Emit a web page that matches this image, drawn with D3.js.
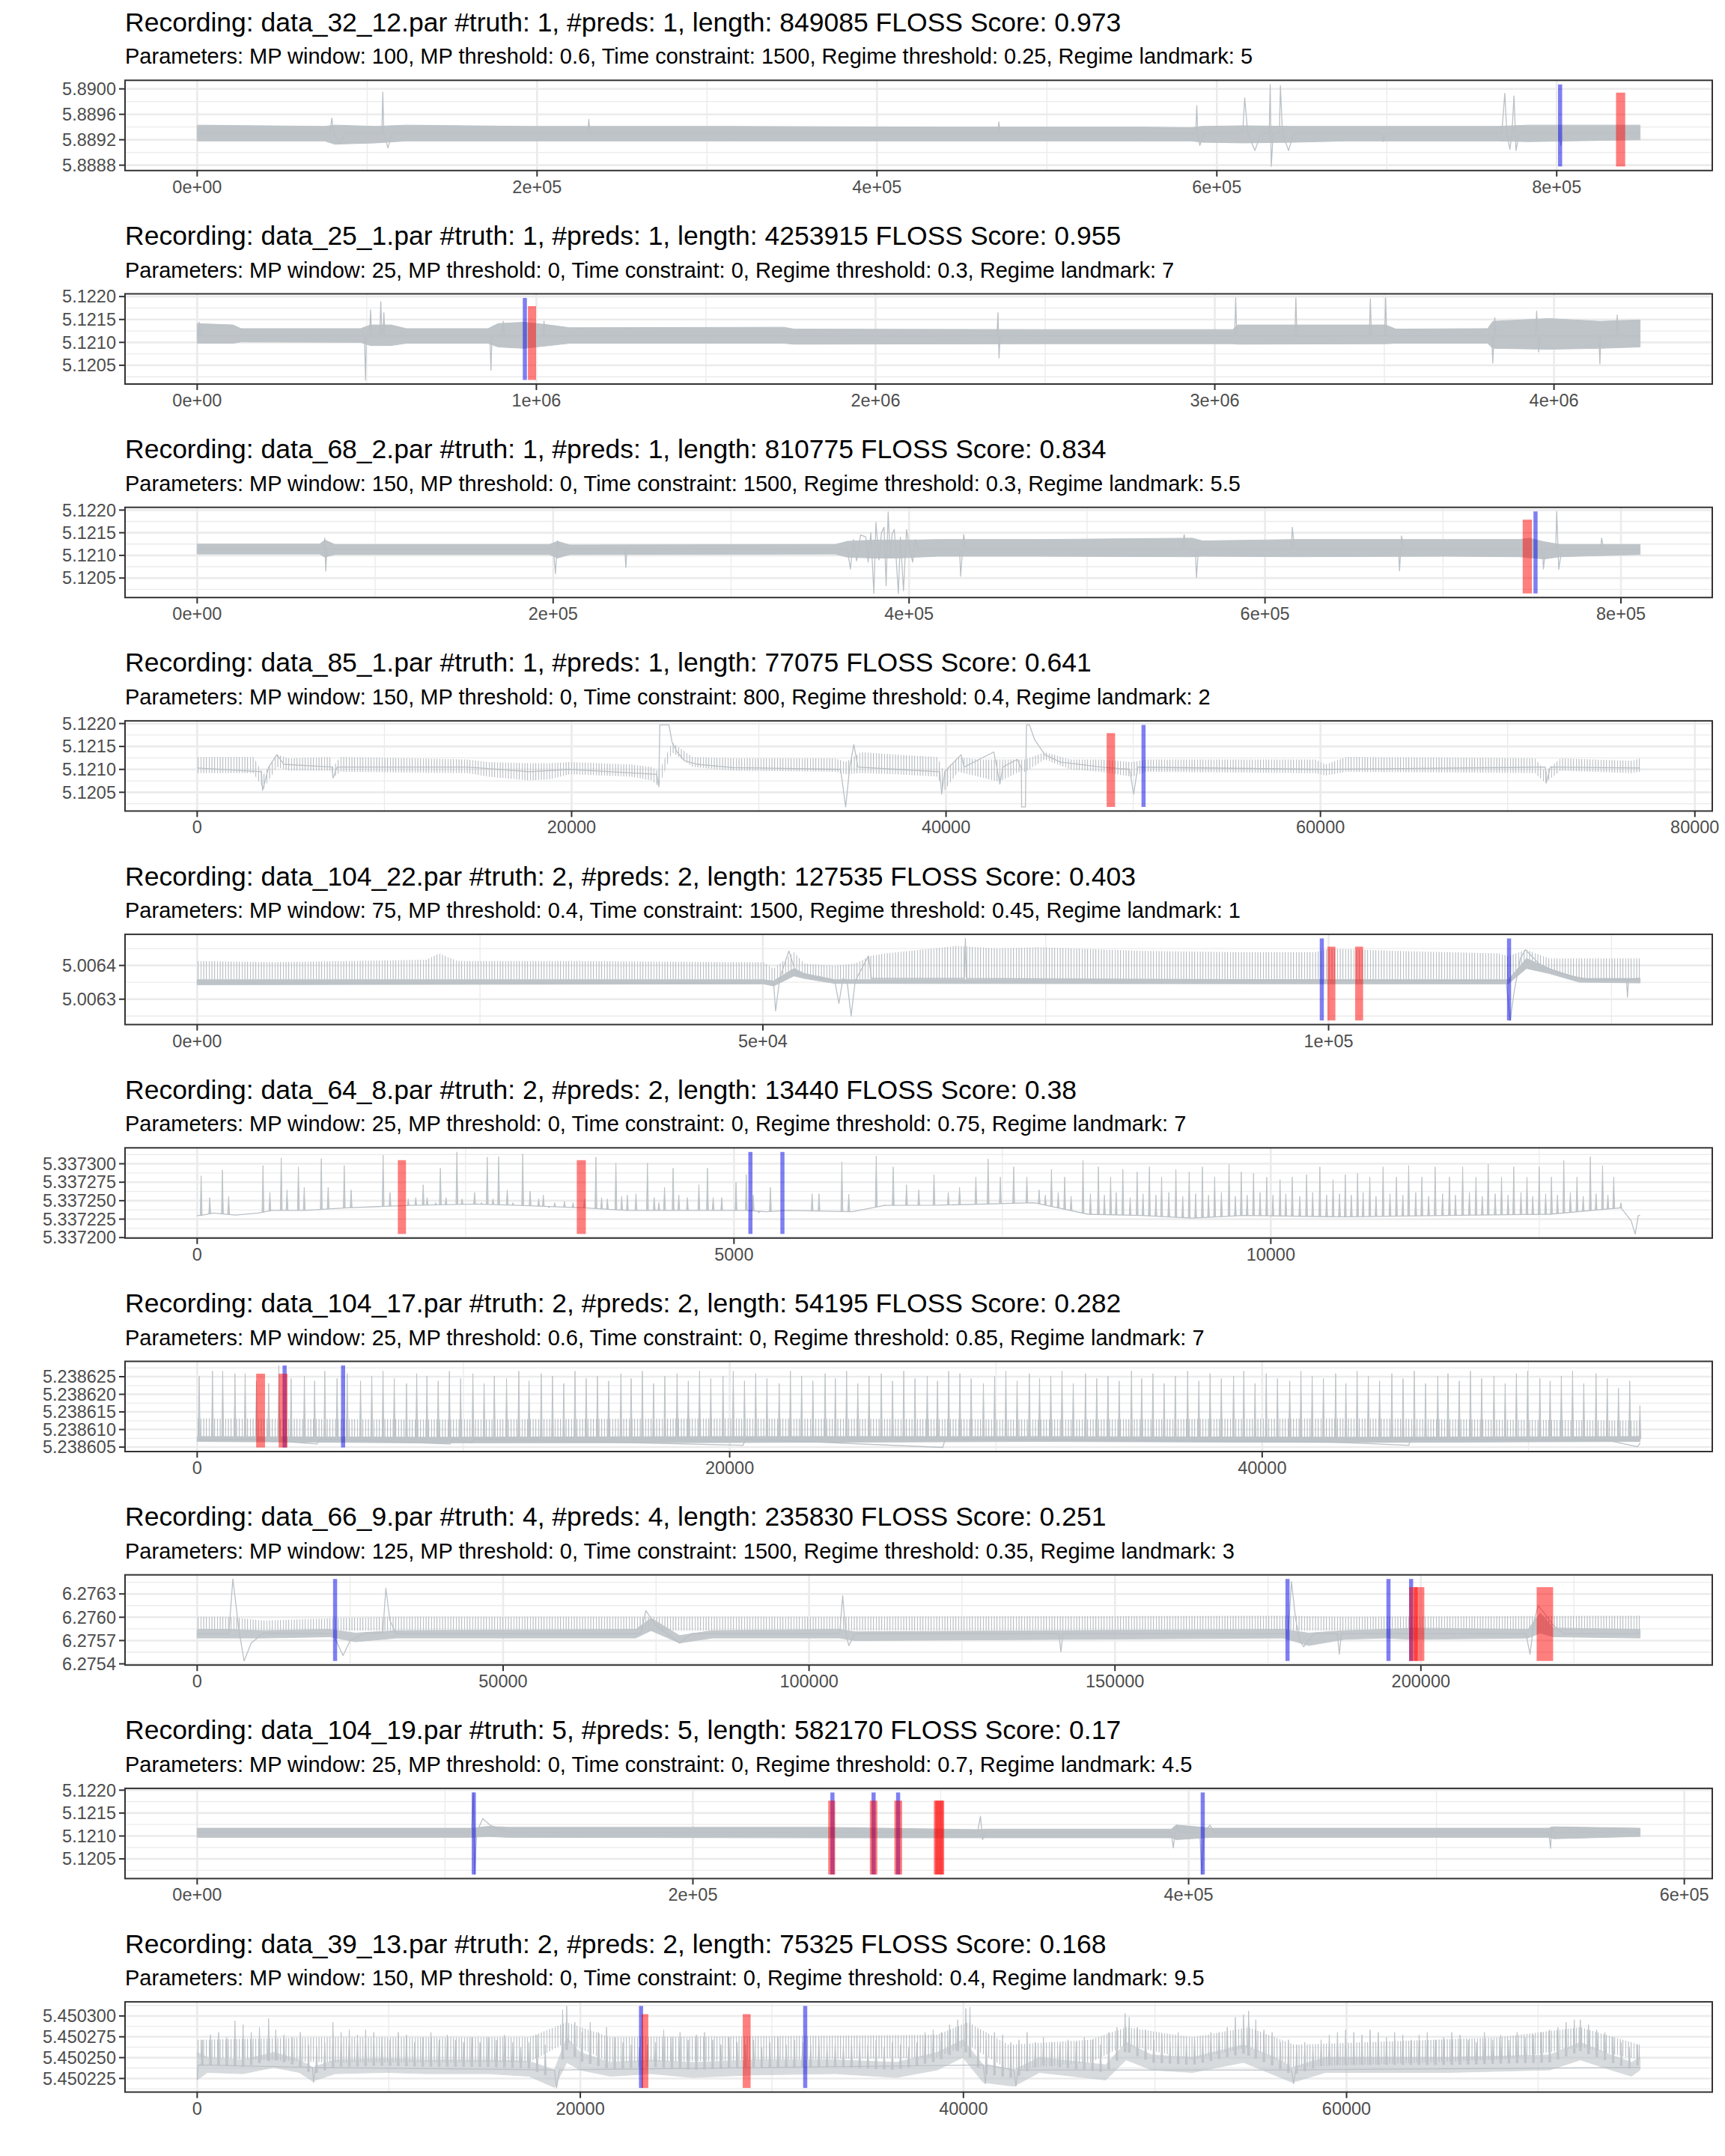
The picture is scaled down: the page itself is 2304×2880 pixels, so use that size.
<!DOCTYPE html>
<html><head><meta charset="utf-8">
<script src="https://cdn.jsdelivr.net/npm/d3@7"></script>
<style>body{margin:0;background:#fff;} text{font-family:"Liberation Sans",Arial,Helvetica,sans-serif;}</style>
</head><body><svg id="chart" width="2304" height="2880" xmlns="http://www.w3.org/2000/svg"></svg>
<script>
// ---------------- text ----------------
const titles = [
 "Recording: data_32_12.par #truth: 1, #preds: 1, length: 849085 FLOSS Score: 0.973",
 "Recording: data_25_1.par #truth: 1, #preds: 1, length: 4253915 FLOSS Score: 0.955",
 "Recording: data_68_2.par #truth: 1, #preds: 1, length: 810775 FLOSS Score: 0.834",
 "Recording: data_85_1.par #truth: 1, #preds: 1, length: 77075 FLOSS Score: 0.641",
 "Recording: data_104_22.par #truth: 2, #preds: 2, length: 127535 FLOSS Score: 0.403",
 "Recording: data_64_8.par #truth: 2, #preds: 2, length: 13440 FLOSS Score: 0.38",
 "Recording: data_104_17.par #truth: 2, #preds: 2, length: 54195 FLOSS Score: 0.282",
 "Recording: data_66_9.par #truth: 4, #preds: 4, length: 235830 FLOSS Score: 0.251",
 "Recording: data_104_19.par #truth: 5, #preds: 5, length: 582170 FLOSS Score: 0.17",
 "Recording: data_39_13.par #truth: 2, #preds: 2, length: 75325 FLOSS Score: 0.168"];
const subtitles = [
 "Parameters: MP window: 100, MP threshold: 0.6, Time constraint: 1500, Regime threshold: 0.25, Regime landmark: 5",
 "Parameters: MP window: 25, MP threshold: 0, Time constraint: 0, Regime threshold: 0.3, Regime landmark: 7",
 "Parameters: MP window: 150, MP threshold: 0, Time constraint: 1500, Regime threshold: 0.3, Regime landmark: 5.5",
 "Parameters: MP window: 150, MP threshold: 0, Time constraint: 800, Regime threshold: 0.4, Regime landmark: 2",
 "Parameters: MP window: 75, MP threshold: 0.4, Time constraint: 1500, Regime threshold: 0.45, Regime landmark: 1",
 "Parameters: MP window: 25, MP threshold: 0, Time constraint: 0, Regime threshold: 0.75, Regime landmark: 7",
 "Parameters: MP window: 25, MP threshold: 0.6, Time constraint: 0, Regime threshold: 0.85, Regime landmark: 7",
 "Parameters: MP window: 125, MP threshold: 0, Time constraint: 1500, Regime threshold: 0.35, Regime landmark: 3",
 "Parameters: MP window: 25, MP threshold: 0, Time constraint: 0, Regime threshold: 0.7, Regime landmark: 4.5",
 "Parameters: MP window: 150, MP threshold: 0, Time constraint: 0, Regime threshold: 0.4, Regime landmark: 9.5"];
const lengths = [849085, 4253915, 810775, 77075, 127535, 13440, 54195, 235830, 582170, 75325];

// ---------------- axis ticks ----------------
const xTicks = [
 [0,2e5,4e5,6e5,8e5],[0,1e6,2e6,3e6,4e6],[0,2e5,4e5,6e5,8e5],[0,20000,40000,60000,80000],
 [0,5e4,1e5],[0,5000,10000],[0,20000,40000],[0,50000,100000,150000,200000],[0,2e5,4e5,6e5],[0,20000,40000,60000]];
const xTickLabels = [
 ["0e+00","2e+05","4e+05","6e+05","8e+05"],["0e+00","1e+06","2e+06","3e+06","4e+06"],
 ["0e+00","2e+05","4e+05","6e+05","8e+05"],["0","20000","40000","60000","80000"],
 ["0e+00","5e+04","1e+05"],["0","5000","10000"],["0","20000","40000"],
 ["0","50000","100000","150000","200000"],["0e+00","2e+05","4e+05","6e+05"],["0","20000","40000","60000"]];
const yTicks = [
 [5.8888,5.8892,5.8896,5.8900],[5.1205,5.1210,5.1215,5.1220],[5.1205,5.1210,5.1215,5.1220],
 [5.1205,5.1210,5.1215,5.1220],[5.0063,5.0064],[5.3372,5.337225,5.33725,5.337275,5.3373],
 [5.238605,5.23861,5.238615,5.23862,5.238625],[6.2754,6.2757,6.2760,6.2763],
 [5.1205,5.1210,5.1215,5.1220],[5.450225,5.45025,5.450275,5.4503]];
const yTickLabels = [
 ["5.8888","5.8892","5.8896","5.8900"],["5.1205","5.1210","5.1215","5.1220"],["5.1205","5.1210","5.1215","5.1220"],
 ["5.1205","5.1210","5.1215","5.1220"],["5.0063","5.0064"],["5.337200","5.337225","5.337250","5.337275","5.337300"],
 ["5.238605","5.238610","5.238615","5.238620","5.238625"],["6.2754","6.2757","6.2760","6.2763"],
 ["5.1205","5.1210","5.1215","5.1220"],["5.450225","5.450250","5.450275","5.450300"]];

// ---------------- truth (vertical lines) and predictions (intervals) ----------------
const truth = [[802000],[966000],[752000],[50550],[99400,115950],[5153,5451],[3284,5480],
 [22540,178200,194700,198400],[111600,256300,272900,282800,405700],[23170,31740]];
const preds = [[[834900,840300]],[[975000,999000]],[[744800,750000]],[[48580,49030]],
 [[99900,100600],[102350,103050]],[[1869,1945],[3536,3620]],[[2215,2547],[3060,3392]],
 [[198090,199480],[198870,200560],[218920,221610]],
 [[254600,257400],[271400,274400],[281300,284400],[297200,301000],[297800,301400]],
 [[23200,23550],[28480,28890]]];

// ---------------- series: dense envelopes [x, low, high] ----------------
const band1 = [[0,5.88918,5.88943],[75025,5.88918,5.88941],[81027,5.88913,5.88943],[105035,5.88915,5.88941],[123041,5.88918,5.88943],[195065,5.88918,5.88941],[315105,5.88918,5.88941],[435145,5.88918,5.88940],[555185,5.88918,5.88940],[585195,5.88918,5.88939],[591197,5.88916,5.88941],[615205,5.88915,5.88942],[645215,5.88916,5.88941],[675225,5.88918,5.88941],[765255,5.88918,5.88941],[783261,5.88917,5.88943],[849085,5.88920,5.88943]];
const band2 = [[0,5.12098,5.12141],[105263,5.12098,5.12138],[129323,5.12101,5.12130],[481200,5.12100,5.12130],[511275,5.12093,5.12138],[571425,5.12093,5.12138],[616538,5.12098,5.12130],[857138,5.12098,5.12130],[887213,5.12090,5.12141],[962400,5.12087,5.12144],[1037588,5.12093,5.12138],[1097738,5.12098,5.12132],[1729313,5.12098,5.12133],[1759388,5.12096,5.12129],[2481188,5.12097,5.12128],[3052613,5.12097,5.12128],[3067650,5.12096,5.12138],[3503738,5.12097,5.12138],[3533813,5.12098,5.12129],[3804488,5.12098,5.12130],[3819525,5.12087,5.12146],[3984938,5.12085,5.12152],[4135313,5.12087,5.12146],[4253915,5.12090,5.12149]];
const band3 = [[0,5.12103,5.12125],[68820,5.12103,5.12125],[71688,5.12096,5.12134],[77423,5.12102,5.12124],[197858,5.12102,5.12124],[202446,5.12094,5.12131],[209328,5.12102,5.12123],[358438,5.12103,5.12124],[365320,5.12096,5.12131],[381378,5.12094,5.12134],[392848,5.12094,5.12134],[404318,5.12096,5.12134],[415788,5.12098,5.12135],[473138,5.12098,5.12135],[559163,5.12097,5.12138],[564898,5.12098,5.12132],[616513,5.12097,5.12135],[702538,5.12098,5.12135],[742683,5.12097,5.12135],[748418,5.12095,5.12138],[757020,5.12092,5.12130],[765623,5.12097,5.12124],[810775,5.12102,5.12124]];
const band5 = [[0,5.0063429,5.0063578],[50044,5.0063452,5.0063578],[50946,5.0063392,5.0063541],[52749,5.0063689,5.0063911],[53651,5.0063615,5.0063763],[56356,5.0063466,5.0063578],[115868,5.0063452,5.0063578],[117492,5.0063911,5.0064207],[119475,5.0063763,5.0063911],[122180,5.0063504,5.0063615],[127535,5.0063481,5.0063615]];
const band7 = [[0,5.2386066,5.2386080],[8629,5.2386062,5.2386078],[20134,5.2386063,5.2386080],[31639,5.2386066,5.2386080],[43144,5.2386063,5.2386078],[54195,5.2386066,5.2386080]];
const band8 = [[0,6.275732,6.275844],[5000,6.275732,6.275844],[10833,6.275732,6.275828],[21667,6.275748,6.275844],[25834,6.275684,6.275796],[32500,6.275732,6.275828],[71668,6.275732,6.275844],[74168,6.275828,6.275989],[78834,6.275668,6.275764],[84168,6.275732,6.275828],[105002,6.275732,6.275844],[107502,6.275700,6.275812],[177504,6.275732,6.275844],[181670,6.275636,6.275796],[187504,6.275716,6.275828],[194171,6.275732,6.275844],[198338,6.275716,6.275860],[217503,6.275732,6.275844],[219503,6.275796,6.276053],[221670,6.275748,6.275860],[235830,6.275732,6.275844]];
const band9 = [[0,5.12097,5.12117],[111105,5.12097,5.12117],[117278,5.12099,5.12121],[125508,5.12097,5.12119],[253073,5.12096,5.12119],[314798,5.12096,5.12114],[318913,5.12096,5.12115],[392983,5.12096,5.12115],[395040,5.12092,5.12124],[409443,5.12097,5.12117],[545238,5.12097,5.12117],[547295,5.12094,5.12120],[582170,5.12099,5.12117]];
const band10 = [[0,5.4502232,5.4502563],[533,5.4502322,5.4502503],[2398,5.4502307,5.4502473],[3997,5.4502383,5.4502563],[5329,5.4502322,5.4502473],[6022,5.4502217,5.4502383],[7194,5.4502307,5.4502473],[9859,5.4502322,5.4502488],[11990,5.4502307,5.4502473],[15188,5.4502307,5.4502473],[17319,5.4502277,5.4502458],[18652,5.4502142,5.4502352],[19291,5.4502443,5.4502744],[19984,5.4502352,5.4502563],[21582,5.4502277,5.4502443],[23714,5.4502307,5.4502473],[25846,5.4502262,5.4502443],[29043,5.4502292,5.4502473],[33306,5.4502307,5.4502473],[36504,5.4502262,5.4502443],[38635,5.4502352,5.4502563],[39968,5.4502503,5.4502714],[41033,5.4502202,5.4502413],[42632,5.4502157,5.4502352],[43964,5.4502322,5.4502503],[47428,5.4502232,5.4502413],[48494,5.4502473,5.4502684],[49826,5.4502352,5.4502533],[51958,5.4502322,5.4502503],[54622,5.4502443,5.4502654],[56221,5.4502292,5.4502503],[57180,5.4502202,5.4502383],[58886,5.4502322,5.4502503],[62616,5.4502322,5.4502503],[65280,5.4502322,5.4502503],[70609,5.4502352,5.4502533],[72208,5.4502473,5.4502684],[73807,5.4502352,5.4502533],[74873,5.4502277,5.4502443],[75325,5.4502352,5.4502503]];

// ---------------- series: comb envelopes (dense repeated beats) [x, low, high] ----------------
const comb4 = [[0,5.120919,5.121269],[3000,5.120919,5.121269],[3546,5.120570,5.120893],[4255,5.121054,5.121323],[4910,5.120973,5.121242],[7092,5.120973,5.121269],[7255,5.120812,5.121054],[7637,5.120946,5.121269],[14456,5.120919,5.121215],[15547,5.120839,5.121161],[17729,5.120758,5.121134],[18820,5.120785,5.121134],[19911,5.120893,5.121161],[23184,5.120839,5.121108],[24275,5.120758,5.121054],[24657,5.120624,5.120946],[25366,5.121376,5.121591],[26457,5.121054,5.121269],[28639,5.120973,5.121242],[34094,5.120946,5.121242],[34639,5.120893,5.121161],[35458,5.120919,5.121376],[37367,5.120893,5.121323],[39549,5.120839,5.121269],[39876,5.120516,5.120946],[40640,5.120946,5.121269],[41731,5.120839,5.121215],[42822,5.120731,5.121215],[43913,5.120946,5.121215],[44240,5.120946,5.121215],[45277,5.121215,5.121376],[46640,5.121000,5.121215],[48277,5.120946,5.121215],[49913,5.120839,5.121161],[50732,5.120946,5.121215],[59732,5.120919,5.121215],[60278,5.120866,5.121108],[61369,5.120946,5.121269],[71461,5.120919,5.121242],[72006,5.120704,5.120946],[72824,5.120973,5.121242],[76642,5.120919,5.121188],[77075,5.120946,5.121242]];
const comb5 = [[0,5.0063429,5.0064133],[6763,5.0063429,5.0064096],[20288,5.0063452,5.0064170],[21370,5.0063466,5.0064356],[22993,5.0063452,5.0064133],[33814,5.0063452,5.0064133],[47339,5.0063466,5.0064096],[50044,5.0063466,5.0064096],[50946,5.0063392,5.0063911],[52749,5.0063689,5.0064393],[53651,5.0063615,5.0064059],[56356,5.0063466,5.0063985],[58160,5.0063504,5.0064059],[59512,5.0063578,5.0064282],[60865,5.0063578,5.0064356],[67177,5.0063541,5.0064580],[70783,5.0063526,5.0064500],[74390,5.0063526,5.0064541],[83407,5.0063504,5.0064430],[92424,5.0063504,5.0064393],[98736,5.0063481,5.0064393],[100089,5.0063466,5.0064500],[105950,5.0063481,5.0064430],[114967,5.0063504,5.0064356],[115868,5.0063504,5.0064282],[117492,5.0063911,5.0064467],[119475,5.0063763,5.0064207],[122180,5.0063541,5.0064207],[127535,5.0063578,5.0064207]];
const comb7 = [[0,5.2386066,5.2386132],[8629,5.2386062,5.2386129],[20134,5.2386063,5.2386132],[31639,5.2386066,5.2386129],[43144,5.2386063,5.2386132],[54195,5.2386066,5.2386125]];
const comb8 = [[0,6.275828,6.276005],[5000,6.275828,6.276005],[10833,6.275828,6.275957],[22500,6.275828,6.275989],[32500,6.275828,6.276005],[70835,6.275828,6.276005],[104169,6.275828,6.276005],[177504,6.275828,6.276021],[187504,6.275828,6.276005],[235830,6.275828,6.276021]];
const comb10 = [[0,5.4502503,5.4502714],[6661,5.4502443,5.4502744],[17319,5.4502443,5.4502744],[19291,5.4502684,5.4502925],[21582,5.4502443,5.4502744],[38635,5.4502503,5.4502774],[40235,5.4502654,5.4502925],[42366,5.4502352,5.4502654],[46629,5.4502443,5.4502714],[48494,5.4502654,5.4502864],[51958,5.4502473,5.4502744],[54889,5.4502624,5.4502864],[57287,5.4502383,5.4502654],[67945,5.4502473,5.4502744],[72208,5.4502624,5.4502864],[75325,5.4502473,5.4502654]];

// ---------------- series: traced line points [x, y] ----------------
const trace1 = [[0,5.88930],[78026,5.88930],[79226,5.88954],[80427,5.88930],[84028,5.88914],[87029,5.88930],[108636,5.88930],[109236,5.88995],[109837,5.88930],[112237,5.88907],[114638,5.88930],[229877,5.88930],[230477,5.88952],[231077,5.88930],[471157,5.88930],[471757,5.88948],[472357,5.88930],[587596,5.88930],[588196,5.88974],[588796,5.88930],[589996,5.88911],[592397,5.88930],[615205,5.88930],[616405,5.88986],[618206,5.88930],[622407,5.88903],[626009,5.88930],[630811,5.88930],[631410,5.89007],[632011,5.88878],[633211,5.88930],[636813,5.88930],[637413,5.89005],[638613,5.88930],[642214,5.88903],[645215,5.88930],[697432,5.88930],[698033,5.88917],[699233,5.88930],[767656,5.88930],[769456,5.88993],[770657,5.88930],[772457,5.88905],[773657,5.88930],[774858,5.88989],[776059,5.88903],[777859,5.88930],[801267,5.88930],[802467,5.88911],[803668,5.88930],[849085,5.88930]];
const trace2 = [[0,5.12114],[3000,5.12114],[6015,5.12144],[9000,5.12114],[493000,5.12114],[496238,5.12018],[499000,5.12114],[508000,5.12114],[511275,5.12171],[514000,5.12114],[538000,5.12114],[541350,5.12189],[544500,5.12114],[547500,5.12114],[550373,5.12165],[553500,5.12114],[863000,5.12114],[866160,5.12039],[869000,5.12114],[899000,5.12114],[902250,5.12146],[905500,5.12114],[1019500,5.12114],[1022550,5.12146],[1025500,5.12114],[2357800,5.12114],[2360888,5.12165],[2363900,5.12066],[2367000,5.12114],[3058500,5.12114],[3061635,5.12197],[3064700,5.12114],[3236000,5.12114],[3239078,5.12197],[3242100,5.12114],[3455600,5.12114],[3458625,5.12195],[3461700,5.12114],[3500700,5.12114],[3503738,5.12197],[3506800,5.12114],[3816500,5.12114],[3819525,5.12055],[3825540,5.12154],[3828600,5.12114],[3945800,5.12114],[3948848,5.12168],[3954863,5.12079],[3957900,5.12114],[4132300,5.12114],[4135313,5.12053],[4138300,5.12114],[4183400,5.12114],[4186440,5.12160],[4189500,5.12114],[4253915,5.12114]];
const trace3 = [[0,5.12114],[71114,5.12114],[71688,5.12138],[72261,5.12065],[72835,5.12114],[200152,5.12114],[201299,5.12060],[202446,5.12132],[203593,5.12114],[240297,5.12114],[240870,5.12073],[241444,5.12114],[365320,5.12114],[367040,5.12070],[368761,5.12135],[370500,5.12088],[372775,5.12145],[375643,5.12141],[377000,5.12085],[378510,5.12150],[380231,5.12016],[381378,5.12173],[383098,5.12090],[384500,5.12150],[385966,5.12162],[387113,5.12033],[388260,5.12196],[389407,5.12095],[390500,5.12148],[391701,5.12157],[393995,5.12016],[395142,5.12140],[396862,5.12022],[398583,5.12157],[400303,5.12114],[402000,5.12085],[403500,5.12135],[405000,5.12114],[428400,5.12114],[428978,5.12054],[430699,5.12146],[431846,5.12114],[553428,5.12114],[554576,5.12146],[555722,5.12114],[560883,5.12114],[561457,5.12051],[562604,5.12114],[614792,5.12114],[615366,5.12162],[616513,5.12114],[675010,5.12114],[675583,5.12066],[676730,5.12143],[677877,5.12114],[755873,5.12114],[756447,5.12070],[757594,5.12114],[763329,5.12114],[763902,5.12197],[765049,5.12069],[766770,5.12114],[788563,5.12114],[789136,5.12138],[790283,5.12114],[810775,5.12114]];
const trace4 = [[0,5.12103],[3437,5.12095],[3491,5.12054],[3819,5.12105],[4255,5.12132],[4637,5.12111],[7201,5.12105],[7255,5.12081],[7473,5.12105],[14456,5.12105],[17729,5.12095],[19911,5.12100],[24548,5.12089],[24657,5.12062],[24711,5.12197],[25202,5.12197],[25366,5.12159],[25639,5.12138],[26020,5.12119],[26730,5.12111],[28639,5.12104],[34367,5.12100],[34639,5.12018],[34857,5.12105],[35076,5.12154],[35294,5.12105],[37367,5.12100],[39658,5.12095],[39767,5.12046],[39931,5.12095],[40803,5.12132],[40967,5.12105],[42549,5.12138],[42713,5.12105],[42876,5.12068],[43040,5.12105],[43803,5.12122],[44022,5.12103],[44040,5.12018],[44240,5.12018],[44295,5.12197],[44458,5.12197],[44731,5.12165],[45277,5.12132],[46095,5.12116],[48277,5.12105],[49804,5.12100],[50022,5.12046],[50240,5.12105],[60278,5.12100],[72006,5.12105],[72061,5.12070],[72279,5.12105],[77075,5.12103]];
const trace5 = [[0,5.00635],[50946,5.00635],[51126,5.0062651],[51487,5.0063615],[52299,5.0064430],[52930,5.0063763],[56356,5.0063541],[56717,5.0062874],[57078,5.0063615],[57438,5.0063541],[57799,5.0062503],[58160,5.0063541],[59332,5.0064282],[59602,5.0063615],[67808,5.0063615],[67898,5.0064800],[67988,5.0063615],[115688,5.0063541],[116049,5.0062370],[116409,5.0063244],[116950,5.0064207],[117401,5.0064467],[118574,5.0064059],[120377,5.0063763],[123082,5.0063578],[126328,5.0063578],[126418,5.0063059],[126508,5.0063578],[127535,5.0063615]];
const trace6 = [[0,5.3372299],[37,5.3372299],[150,5.3372333],[357,5.3372305],[570,5.3372333],[700,5.3372368],[1000,5.3372368],[1400,5.3372403],[1689,5.3372420],[2000,5.3372437],[2600,5.3372455],[3000,5.3372437],[3600,5.3372403],[4000,5.3372368],[5100,5.3372368],[5300,5.3372351],[5500,5.3372368],[6100,5.3372351],[6405,5.3372437],[6892,5.3372438],[7795,5.3372472],[8300,5.3372316],[8793,5.3372299],[9268,5.3372264],[9744,5.3372299],[10694,5.3372281],[11645,5.3372299],[12595,5.3372316],[13261,5.3372403],[13356,5.3372229],[13394,5.3372049],[13423,5.3372299],[13440,5.3372299]];
const trace7 = [[0,5.2386073],[300,5.2386069],[2000,5.2386073],[4500,5.2386059],[4600,5.2386073],[9500,5.2386059],[9600,5.2386073],[10300,5.2386062],[10400,5.2386073],[20500,5.2386055],[20600,5.2386073],[28000,5.2386049],[28100,5.2386073],[42000,5.2386066],[45500,5.2386055],[45600,5.2386073],[53000,5.2386069],[54100,5.2386051],[54195,5.2386062]];
const trace8 = [[0,6.275790],[5167,6.275790],[5833,6.276493],[6833,6.275828],[7667,6.275437],[8834,6.275668],[10834,6.275796],[22167,6.275790],[23834,6.275507],[25001,6.275700],[27501,6.275796],[30334,6.275796],[30834,6.276374],[31501,6.275957],[32501,6.275790],[72501,6.275790],[73335,6.276085],[75002,6.275892],[78835,6.275668],[80835,6.275790],[105002,6.275790],[105502,6.276278],[106002,6.275790],[106502,6.275636],[107502,6.275790],[140836,6.275790],[141169,6.275556],[141502,6.275790],[178337,6.275790],[178837,6.276461],[179504,6.275989],[180170,6.275700],[180837,6.275620],[182504,6.275790],[186337,6.275790],[186670,6.275523],[187004,6.275790],[217170,6.275790],[217837,6.275523],[218504,6.275957],[219170,6.276149],[220170,6.276053],[221671,6.275892],[223338,6.275790],[235830,6.275790]];
const trace9 = [[0,5.12108],[110694,5.12108],[111517,5.12195],[111928,5.12016],[112751,5.12108],[115220,5.12138],[118101,5.12124],[121393,5.12116],[125508,5.12108],[314798,5.12108],[316032,5.12143],[316855,5.12092],[318090,5.12108],[392983,5.12108],[393806,5.12074],[395040,5.12124],[396275,5.12108],[404504,5.12108],[405328,5.12016],[406151,5.12108],[408620,5.12124],[410266,5.12108],[545238,5.12108],[546061,5.12073],[546472,5.12120],[547295,5.12108],[582170,5.12108]];
const trace10 = [[0,5.4502232],[53,5.4502413],[6022,5.4502383],[6075,5.4502202],[6182,5.4502383],[18652,5.4502352],[18758,5.4502136],[18918,5.4502352],[41033,5.4502413],[41140,5.4502187],[41246,5.4502413],[42632,5.4502352],[42739,5.4502157],[42845,5.4502352],[57127,5.4502352],[57233,5.4502187],[57340,5.4502352],[75325,5.4502383]];

// ---------------- series: beat peaks [x, peak value] ----------------
const spikes6 = [[37,5.3372837],[117,5.3372542],[235,5.3372917],[293,5.3372559],[613,5.3372976],[677,5.3372611],[783,5.3373080],[837,5.3372646],[943,5.3372958],[997,5.3372681],[1156,5.3373070],[1220,5.3372681],[1370,5.3372976],[1434,5.3372646],[1732,5.3373115],[1796,5.3372611],[1966,5.3372524],[2036,5.3372542],[2105,5.3372715],[2142,5.3372542],[2222,5.3372472],[2265,5.3372941],[2318,5.3372542],[2419,5.3373160],[2467,5.3372524],[2515,5.3372455],[2584,5.3372611],[2648,5.3372472],[2702,5.3373090],[2755,5.3372524],[2808,5.3373097],[2888,5.3372646],[2941,5.3372472],[3032,5.3373132],[3101,5.3372628],[3181,5.3372524],[3224,5.3372576],[3277,5.3372403],[3330,5.3372472],[3421,5.3372489],[3501,5.3372472],[3607,5.3372524],[3714,5.3373090],[3767,5.3372542],[3821,5.3372524],[3900,5.3373010],[3954,5.3372559],[4007,5.3372576],[4087,5.3372594],[4194,5.3373010],[4257,5.3372542],[4300,5.3372472],[4353,5.3372681],[4433,5.3372941],[4486,5.3372576],[4566,5.3372542],[4673,5.3372715],[4753,5.3372941],[4806,5.3372542],[4886,5.3372542],[5019,5.3372750],[5115,5.3372854],[5179,5.3372576],[5232,5.3372333],[5339,5.3372681],[5728,5.3372594],[5792,5.3372594],[6005,5.3373028],[6069,5.3372587],[6325,5.3373104],[6405,5.3372437],[6483,5.3372958],[6607,5.3372715],[6721,5.3372646],[6863,5.3372854],[6996,5.3372611],[7101,5.3372681],[7253,5.3372820],[7367,5.3373063],[7481,5.3372820],[7605,5.3372958],[7728,5.3372820],[7842,5.3372646],[7900,5.3372576],[7957,5.3372924],[8020,5.3372611],[8080,5.3372820],[8140,5.3372559],[8251,5.3373045],[8320,5.3372594],[8394,5.3372958],[8450,5.3372576],[8508,5.3372820],[8560,5.3372611],[8622,5.3372924],[8690,5.3372542],[8755,5.3372889],[8810,5.3372594],[8869,5.3372958],[8930,5.3372576],[8983,5.3372820],[9050,5.3372611],[9116,5.3372924],[9180,5.3372559],[9240,5.3372889],[9300,5.3372594],[9363,5.3372958],[9420,5.3372576],[9477,5.3372820],[9540,5.3372611],[9611,5.3372993],[9670,5.3372559],[9725,5.3372889],[9780,5.3372576],[9839,5.3372871],[9900,5.3372611],[9962,5.3372820],[10020,5.3372576],[10086,5.3372785],[10140,5.3372594],[10200,5.3372820],[10270,5.3372559],[10333,5.3372854],[10390,5.3372611],[10457,5.3372958],[10520,5.3372576],[10580,5.3372785],[10640,5.3372594],[10694,5.3372854],[10750,5.3372576],[10808,5.3372871],[10860,5.3372611],[10922,5.3372820],[10980,5.3372559],[11046,5.3372958],[11110,5.3372594],[11170,5.3372820],[11230,5.3372576],[11284,5.3372976],[11350,5.3372611],[11407,5.3372820],[11470,5.3372559],[11531,5.3372958],[11600,5.3372594],[11664,5.3372820],[11720,5.3372576],[11787,5.3372958],[11850,5.3372611],[11911,5.3372820],[11970,5.3372559],[12025,5.3372993],[12090,5.3372594],[12149,5.3372820],[12210,5.3372576],[12263,5.3372958],[12330,5.3372611],[12386,5.3372820],[12440,5.3372559],[12500,5.3372958],[12560,5.3372594],[12614,5.3372820],[12670,5.3372576],[12729,5.3373045],[12790,5.3372611],[12852,5.3372820],[12910,5.3372559],[12976,5.3373097],[13030,5.3372594],[13090,5.3372976],[13140,5.3372576],[13194,5.3372820],[13261,5.3372472]];
const spikes7 = [[77,5.2386252],[575,5.2386266],[959,5.2386266],[1419,5.2386259],[1802,5.2386259],[2224,5.2386238],[2685,5.2386231],[3068,5.2386282],[3528,5.2386245],[4027,5.2386252],[4410,5.2386238],[4794,5.2386266],[5254,5.2386245],[5637,5.2386259],[6136,5.2386238],[6558,5.2386252],[6980,5.2386266],[7402,5.2386245],[7862,5.2386231],[8245,5.2386259],[8629,5.2386252],[9051,5.2386238],[9472,5.2386266],[9894,5.2386245],[10355,5.2386259],[10776,5.2386231],[11160,5.2386252],[11620,5.2386245],[12080,5.2386266],[12464,5.2386238],[12924,5.2386259],[13346,5.2386252],[13768,5.2386231],[14190,5.2386266],[14611,5.2386245],[15033,5.2386252],[15455,5.2386238],[15915,5.2386259],[16299,5.2386245],[16721,5.2386266],[17142,5.2386231],[17564,5.2386252],[18025,5.2386259],[18446,5.2386238],[18868,5.2386266],[19290,5.2386245],[19750,5.2386252],[20134,5.2386266],[20556,5.2386238],[20977,5.2386259],[21399,5.2386245],[21860,5.2386231],[22281,5.2386266],[22703,5.2386252],[23125,5.2386238],[23585,5.2386259],[23969,5.2386245],[24391,5.2386266],[24812,5.2386231],[25234,5.2386252],[25695,5.2386259],[26116,5.2386238],[26538,5.2386266],[26960,5.2386245],[27420,5.2386252],[27804,5.2386238],[28226,5.2386266],[28647,5.2386259],[29069,5.2386245],[29530,5.2386231],[29951,5.2386252],[30373,5.2386266],[30795,5.2386238],[31255,5.2386259],[31639,5.2386245],[32061,5.2386252],[32482,5.2386266],[32904,5.2386231],[33365,5.2386259],[33786,5.2386245],[34208,5.2386252],[34630,5.2386238],[35090,5.2386266],[35474,5.2386245],[35896,5.2386259],[36317,5.2386231],[36739,5.2386252],[37200,5.2386266],[37621,5.2386238],[38043,5.2386259],[38465,5.2386245],[38925,5.2386252],[39309,5.2386266],[39731,5.2386231],[40152,5.2386259],[40574,5.2386245],[41035,5.2386238],[41456,5.2386266],[41878,5.2386252],[42300,5.2386245],[42760,5.2386259],[43144,5.2386231],[43566,5.2386266],[43987,5.2386252],[44409,5.2386238],[44870,5.2386259],[45291,5.2386245],[45713,5.2386266],[46135,5.2386231],[46595,5.2386252],[46979,5.2386259],[47401,5.2386238],[47822,5.2386266],[48244,5.2386245],[48705,5.2386252],[49126,5.2386231],[49548,5.2386259],[49970,5.2386266],[50430,5.2386245],[50814,5.2386238],[51236,5.2386252],[51657,5.2386266],[52079,5.2386231],[52540,5.2386259],[52961,5.2386245],[53383,5.2386217],[53805,5.2386238],[54188,5.2386168]];
const spikes10 = [[266,5.4502714],[693,5.4502774],[1119,5.4502804],[1545,5.4502744],[1972,5.4502940],[2398,5.4502895],[2824,5.4502804],[3251,5.4502864],[3730,5.4502970],[4103,5.4502834],[4530,5.4502774],[4956,5.4502744],[5382,5.4502804],[5809,5.4502654],[6235,5.4502624],[6661,5.4502684],[7088,5.4502925],[7514,5.4502804],[7940,5.4502834],[8367,5.4502774],[8793,5.4502834],[9219,5.4502804],[9645,5.4502744],[10072,5.4502714],[10498,5.4502804],[10924,5.4502774],[11351,5.4502684],[11777,5.4502744],[12203,5.4502804],[12630,5.4502714],[13056,5.4502774],[13482,5.4502714],[13909,5.4502684],[14335,5.4502744],[14761,5.4502684],[15188,5.4502744],[15614,5.4502714],[16040,5.4502774],[16467,5.4502684],[16893,5.4502624],[17319,5.4502684],[17746,5.4502774],[18172,5.4502654],[19078,5.4503075],[19291,5.4503120],[19717,5.4502925],[20090,5.4502804],[20517,5.4502925],[20943,5.4502804],[21369,5.4502864],[21796,5.4502744],[22222,5.4502684],[22648,5.4502654],[23075,5.4502624],[23501,5.4502654],[23927,5.4502684],[24354,5.4502834],[24780,5.4502744],[25206,5.4502804],[25632,5.4502714],[26059,5.4502774],[26485,5.4502804],[26911,5.4502714],[27338,5.4502654],[27764,5.4502744],[28190,5.4502684],[28617,5.4502654],[29043,5.4502714],[29469,5.4502624],[29896,5.4502684],[30322,5.4502744],[30748,5.4502654],[31175,5.4502714],[31601,5.4502684],[32027,5.4502654],[32454,5.4502744],[32880,5.4502654],[33306,5.4502684],[33733,5.4502654],[34159,5.4502714],[34585,5.4502684],[35012,5.4502654],[35438,5.4502714],[35864,5.4502624],[36290,5.4502684],[36717,5.4502654],[37143,5.4502624],[37569,5.4502684],[37996,5.4502804],[38422,5.4502834],[38848,5.4502804],[39275,5.4502895],[39701,5.4502955],[40127,5.4503090],[40341,5.4503105],[40767,5.4502834],[41193,5.4502714],[41620,5.4502804],[42046,5.4502774],[42472,5.4502684],[42898,5.4502714],[43325,5.4502804],[43751,5.4502684],[44177,5.4502744],[44604,5.4502684],[45030,5.4502654],[45456,5.4502714],[45883,5.4502684],[46309,5.4502744],[46735,5.4502714],[47162,5.4502654],[47588,5.4502804],[48014,5.4502864],[48441,5.4503030],[48654,5.4502985],[49080,5.4502864],[49506,5.4502834],[49933,5.4502714],[50359,5.4502774],[50785,5.4502684],[51212,5.4502804],[51638,5.4502684],[52064,5.4502744],[52491,5.4502714],[52917,5.4502804],[53343,5.4502804],[53770,5.4502864],[54196,5.4502985],[54622,5.4503015],[54889,5.4503060],[55262,5.4502955],[55688,5.4502834],[56114,5.4502804],[56541,5.4502684],[56967,5.4502714],[57393,5.4502654],[57820,5.4502684],[58246,5.4502624],[58672,5.4502714],[59099,5.4502774],[59525,5.4502804],[59951,5.4502834],[60378,5.4502804],[60804,5.4502774],[61230,5.4502834],[61657,5.4502804],[62083,5.4502744],[62509,5.4502804],[62935,5.4502774],[63362,5.4502714],[63788,5.4502774],[64214,5.4502804],[64641,5.4502714],[65067,5.4502744],[65493,5.4502804],[65920,5.4502774],[66346,5.4502714],[66772,5.4502684],[67199,5.4502804],[67625,5.4502714],[68051,5.4502774],[68478,5.4502714],[68904,5.4502804],[69330,5.4502744],[69757,5.4502774],[70183,5.4502804],[70609,5.4502834],[71036,5.4502864],[71462,5.4502925],[71888,5.4502955],[72208,5.4502955],[72634,5.4502895],[73061,5.4502834],[73487,5.4502804],[73913,5.4502744],[74340,5.4502684],[74766,5.4502624],[75192,5.4502654]];

// ---------------- assemble ----------------
const bands  = [band1, band2, band3, null, band5, null, band7, band8, band9, band10];
const combs  = [null, null, null, comb4, comb5, null, comb7, comb8, null, comb10];
const traces = [trace1, trace2, trace3, trace4, trace5, trace6, trace7, trace8, trace9, trace10];
const spikes = [null, null, null, null, null, spikes6, spikes7, null, null, spikes10];
const bandOpacity = [1,1,1,1,1,1,1,0.9,1,0.6];

// ---------------- drawing ----------------
const svg = d3.select("#chart");
svg.append("rect").attr("width",2304).attr("height",2880).attr("fill","#fff");
const defs = svg.append("defs");
const pat = defs.append("pattern").attr("id","comb").attr("width",11).attr("height",50)
  .attr("patternUnits","userSpaceOnUse");
[[0,1.2],[4,1],[7.5,1.2]].forEach(([px,w])=>pat.append("rect").attr("x",px).attr("y",0).attr("width",w).attr("height",50).attr("fill","#BAC0C5"));

const LEFT = 167, RIGHT = 2287, TOP0 = 107.3, STEP = 285.2, PH = 120.5;
const GREY = "#BEC4C8";

function interp(arr, xv, k){
  const i = d3.bisector(d=>d[0]).left(arr, xv);
  const val = d => k===undefined ? d[1] : (d[1]+d[2])/2;
  if (i<=0) return val(arr[0]);
  if (i>=arr.length) return val(arr[arr.length-1]);
  const a=arr[i-1], b=arr[i];
  const t=(xv-a[0])/((b[0]-a[0])||1);
  return val(a)+t*(val(b)-val(a));
}
function minorBreaks(ticks, dom){
  const out=[]; const st=ticks[1]-ticks[0];
  const cand=[ticks[0]-st/2, ...ticks.slice(1).map((t,i)=>(t+ticks[i])/2), ticks[ticks.length-1]+st/2];
  cand.forEach(v=>{ if (v>=dom[0] && v<=dom[1]) out.push(v); });
  return out;
}

for (let i=0;i<10;i++){
  const top = TOP0 + i*STEP, bottom = top + PH;
  const g = svg.append("g");
  const L = lengths[i];
  const x = d3.scaleLinear().domain([-0.05*L, 1.05*L]).range([LEFT, RIGHT]);
  const vals = [];
  if (bands[i]) bands[i].forEach(r=>vals.push(r[1],r[2]));
  if (combs[i]) combs[i].forEach(r=>vals.push(r[1],r[2]));
  traces[i].forEach(p=>vals.push(p[1]));
  if (spikes[i]) spikes[i].forEach(p=>vals.push(p[1]));
  const [mn,mx] = d3.extent(vals); const rg = mx-mn;
  const y = d3.scaleLinear().domain([mn-0.05*rg, mx+0.05*rg]).range([bottom, top]);

  g.append("rect").attr("x",LEFT).attr("y",top).attr("width",RIGHT-LEFT).attr("height",PH).attr("fill","#fff");
  const xd = x.domain(), yd = y.domain();
  minorBreaks(xTicks[i], xd).forEach(v=>g.append("line").attr("x1",x(v)).attr("x2",x(v)).attr("y1",top).attr("y2",bottom).attr("stroke","#EBEBEB").attr("stroke-width",1.3));
  minorBreaks(yTicks[i], yd).forEach(v=>g.append("line").attr("x1",LEFT).attr("x2",RIGHT).attr("y1",y(v)).attr("y2",y(v)).attr("stroke","#EBEBEB").attr("stroke-width",1.3));
  xTicks[i].forEach(v=>g.append("line").attr("x1",x(v)).attr("x2",x(v)).attr("y1",top).attr("y2",bottom).attr("stroke","#EBEBEB").attr("stroke-width",2.6));
  yTicks[i].forEach(v=>g.append("line").attr("x1",LEFT).attr("x2",RIGHT).attr("y1",y(v)).attr("y2",y(v)).attr("stroke","#EBEBEB").attr("stroke-width",2.6));

  const area = d3.area().x(d=>x(d[0])).y0(d=>y(d[1])).y1(d=>y(d[2]));
  if (combs[i]) g.append("path").attr("d",area(combs[i])).attr("fill","url(#comb)");
  if (spikes[i]) spikes[i].forEach(s=>{
    const base = bands[i] ? interp(bands[i], s[0], 1) : interp(traces[i], s[0]);
    const px=x(s[0]), pb=y(base), pt=y(s[1]);
    g.append("path").attr("d",`M${px-1.3},${pb}L${px},${pt}L${px+1.3},${pb}`)
      .attr("fill","#C4C9CD").attr("stroke","#B9BFC4").attr("stroke-width",0.9);
  });
  if (bands[i]) g.append("path").attr("d",area(bands[i])).attr("fill",GREY).attr("stroke",GREY).attr("stroke-width",1).attr("opacity",bandOpacity[i]);
  const line = d3.line().x(d=>x(d[0])).y(d=>y(d[1]));
  g.append("path").attr("d",line(traces[i])).attr("fill","none").attr("stroke","#BAC0C5").attr("stroke-width",1.3).attr("stroke-linejoin","round");

  truth[i].forEach(t=>g.append("line").attr("x1",x(t)).attr("x2",x(t)).attr("y1",y(mn)).attr("y2",y(mx))
    .attr("stroke","#0000E6").attr("stroke-opacity",0.5).attr("stroke-width",5.5));
  preds[i].forEach(p=>g.append("rect").attr("x",x(p[0])).attr("width",x(p[1])-x(p[0]))
    .attr("y",y(mn+0.9*rg)).attr("height",y(mn)-y(mn+0.9*rg)).attr("fill","#FF0000").attr("fill-opacity",0.5));

  g.append("rect").attr("x",LEFT).attr("y",top).attr("width",RIGHT-LEFT).attr("height",PH)
    .attr("fill","none").attr("stroke","#333333").attr("stroke-width",2);

  yTicks[i].forEach((v,k)=>{
    g.append("line").attr("x1",LEFT-8).attr("x2",LEFT).attr("y1",y(v)).attr("y2",y(v)).attr("stroke","#333333").attr("stroke-width",2);
    g.append("text").attr("x",LEFT-12).attr("y",y(v)).attr("dy","0.35em").attr("text-anchor","end")
      .attr("font-size",23.5).attr("fill","#4D4D4D").text(yTickLabels[i][k]);
  });
  xTicks[i].forEach((v,k)=>{
    g.append("line").attr("x1",x(v)).attr("x2",x(v)).attr("y1",bottom).attr("y2",bottom+8).attr("stroke","#333333").attr("stroke-width",2);
    g.append("text").attr("x",x(v)).attr("y",bottom+30).attr("text-anchor","middle")
      .attr("font-size",23.5).attr("fill","#4D4D4D").text(xTickLabels[i][k]);
  });

  g.append("text").attr("x",LEFT).attr("y",top-65.5).attr("font-size",35.5).attr("fill","#000").text(titles[i]);
  g.append("text").attr("x",LEFT).attr("y",top-22).attr("font-size",29).attr("fill","#000").text(subtitles[i]);
}
</script></body></html>
